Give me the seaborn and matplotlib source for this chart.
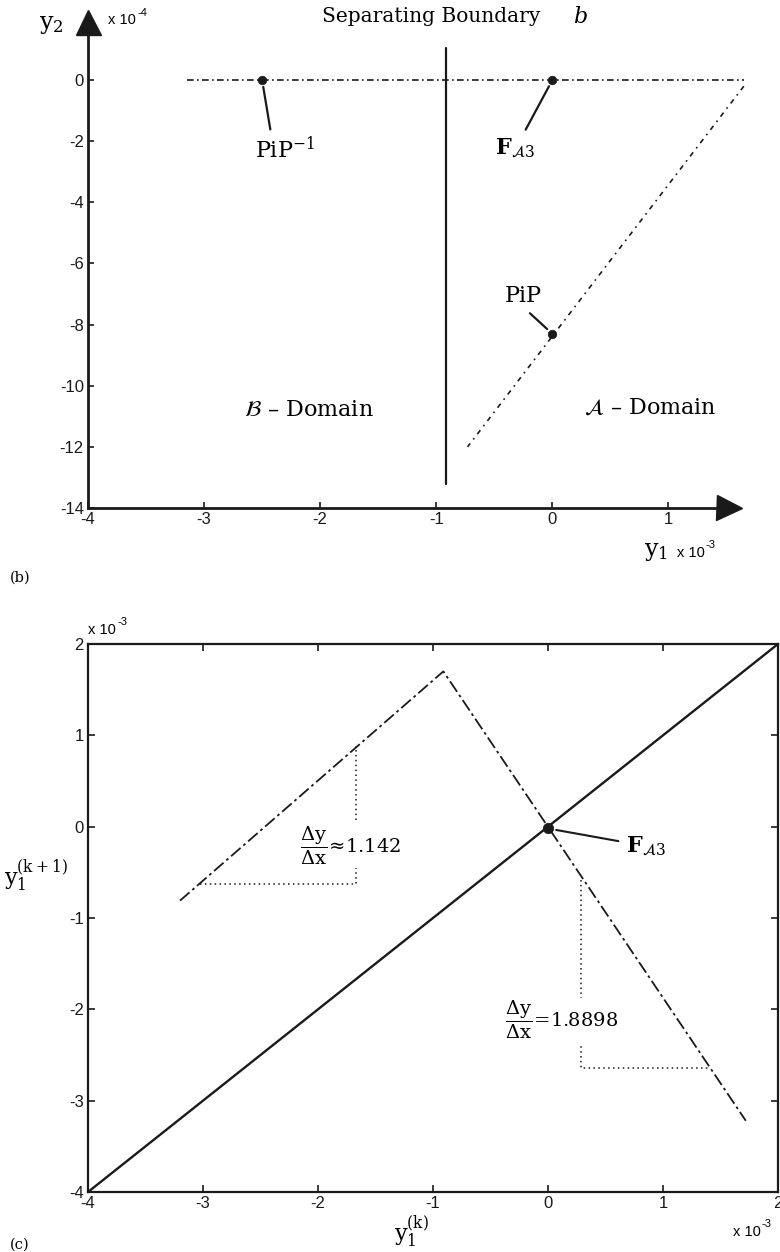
import numpy as np
import pandas as pd
import matplotlib
matplotlib.use("Agg")
import matplotlib.pyplot as plt
import seaborn as sns

# ---------------- panel (b): phase plane (x in 1e-3, y in 1e-4) ----------------
b_branch1_x = [-3.15, 1.65]
b_branch1_y = [0.0, 0.0]
b_branch2_x = [1.65, -0.73]
b_branch2_y = [-0.2, -12.0]
b_boundary_x = [-0.92, -0.92]
b_boundary_y = [1.05, -13.2]
b_points_x = [-2.5, 0.0, 0.0]
b_points_y = [0.0, 0.0, -8.3]
b_point_labels = ["PiP$^{-1}$", r"$\mathbf{F}_{\mathcal{A}3}$", "PiP"]
b_xticks = [-4, -3, -2, -1, 0, 1]
b_yticks = [-14, -12, -10, -8, -6, -4, -2, 0]

# ---------------- panel (c): return map (x, y in 1e-3) ----------------
c_diag_x = [-4.0, 2.0]
c_diag_y = [-4.0, 2.0]
c_map_x = [-3.2, -0.91, 1.72]
c_map_y = [-0.81, 1.70, -3.22]
c_fixed_x = [0.0]
c_fixed_y = [-0.02]
c_tri1_x = [-3.03, -1.67, -1.67]
c_tri1_y = [-0.63, -0.63, 0.88]
c_tri2_x = [0.29, 0.29, 1.39]
c_tri2_y = [-0.58, -2.64, -2.64]
c_slope_labels = [r"$\dfrac{\Delta\mathrm{y}}{\Delta\mathrm{x}}\!\approx\!1.142$",
                  r"$\dfrac{\Delta\mathrm{y}}{\Delta\mathrm{x}}\!=\!1.8898$"]
c_ticks = [-4, -3, -2, -1, 0, 1, 2]

sns.set_theme(style="ticks")
plt.rcParams["font.family"] = ["Liberation Sans", "DejaVu Sans"]
plt.rcParams["mathtext.fontset"] = "dejavuserif"
for key in ["text.color", "axes.labelcolor", "xtick.color", "ytick.color",
            "axes.edgecolor"]:
    plt.rcParams[key] = "black"

W, H = 780, 1252
fig = plt.figure(figsize=(W / 100, H / 100), dpi=100)
fig.patch.set_facecolor("white")

def fx(px):
    return px / W

def fy(py):
    return 1 - py / H

SERIF = "DejaVu Serif"

# ================= panel (b) =================
ax1 = fig.add_axes([fx(88), fy(508), 657 / W, 486 / H])
ax1.set_facecolor("white")
ax1.set_xlim(-4, 1.66)
ax1.set_ylim(-14, 1.9)

sns.lineplot(x=b_branch1_x, y=b_branch1_y, ax=ax1, color="k", lw=1.2,
             linestyle=(0, (4, 2, 1, 2)), sort=False, estimator=None)
sns.lineplot(x=b_branch2_x, y=b_branch2_y, ax=ax1, color="k", lw=1.2,
             linestyle=(0, (3, 3, 1, 3)), sort=False, estimator=None)
sns.lineplot(x=b_boundary_x, y=b_boundary_y, ax=ax1, color="k", lw=1.6,
             sort=False, estimator=None)
sns.scatterplot(x=b_points_x, y=b_points_y, ax=ax1, color="k", s=38,
                edgecolor="k", zorder=5)

for sp in ["top", "right"]:
    ax1.spines[sp].set_visible(False)
for sp in ["left", "bottom"]:
    ax1.spines[sp].set_linewidth(2.0)
    ax1.spines[sp].set_color("k")
ax1.spines["bottom"].set_bounds(-4, 1.52)
ax1.plot(1.52, -14, marker=">", ms=18, color="k", clip_on=False, zorder=6)
ax1.plot(-4, 1.9, marker="^", ms=18, color="k", clip_on=False, zorder=6)

ax1.set_xticks(b_xticks)
ax1.set_yticks(b_yticks)
ax1.set_xticklabels([str(t) for t in b_xticks])
ax1.set_yticklabels([str(t) for t in b_yticks])
ax1.tick_params(direction="in", length=4, width=1.2, labelsize=12, pad=3,
                colors="k")

# point annotations
ann_pos = [(-2.30, -2.29), (-0.32, -2.22), (-0.25, -7.07)]
ann_rel = [(0.27, 1.0), (0.67, 1.0), (0.5, 0.0)]
for lab, px_, py_, (tx, ty), rp in zip(b_point_labels, b_points_x, b_points_y,
                                        ann_pos, ann_rel):
    ax1.annotate(lab, xy=(px_, py_), xytext=(tx, ty), ha="center", va="center",
                 fontsize=16, family=SERIF,
                 arrowprops=dict(arrowstyle="-", color="k", lw=1.6,
                                 relpos=rp, shrinkA=3, shrinkB=5))

ax1.text(-2.1, -10.8, r"$\mathcal{B}$ – Domain", ha="center", va="center",
         fontsize=16, family=SERIF)
ax1.text(0.84, -10.73, r"$\mathcal{A}$ – Domain", ha="center", va="center",
         fontsize=16, family=SERIF)

fig.text(fx(431), fy(17), "Separating Boundary", ha="center", va="center",
         fontsize=14.5, family=SERIF)
fig.text(fx(580), fy(17), "b", ha="center", va="center", fontsize=16,
         family=SERIF, style="italic")
fig.text(fx(51), fy(25), r"$\mathrm{y}_2$", ha="center", va="center",
         fontsize=17, family=SERIF)
fig.text(fx(108), fy(20), "x 10", ha="left", va="center", fontsize=10.5)
fig.text(fx(137), fy(13), "-4", ha="left", va="center", fontsize=8)
fig.text(fx(656), fy(551), r"$\mathrm{y}_1$", ha="center", va="center",
         fontsize=17, family=SERIF)
fig.text(fx(677), fy(553), "x 10", ha="left", va="center", fontsize=10.5)
fig.text(fx(706), fy(545), "-3", ha="left", va="center", fontsize=8)
fig.text(fx(10), fy(578), "(b)", ha="left", va="center", fontsize=10.5,
         family=SERIF)

# ================= panel (c) =================
ax2 = fig.add_axes([fx(88), fy(1192), 690 / W, 548 / H])
ax2.set_facecolor("white")
ax2.set_xlim(-4, 2)
ax2.set_ylim(-4, 2)

sns.lineplot(x=c_diag_x, y=c_diag_y, ax=ax2, color="k", lw=1.7, sort=False,
             estimator=None)
sns.lineplot(x=c_map_x, y=c_map_y, ax=ax2, color="k", lw=1.3,
             linestyle=(0, (7, 2, 1.5, 2)), sort=False, estimator=None)
sns.lineplot(x=c_tri1_x, y=c_tri1_y, ax=ax2, color="k", lw=1.1,
             linestyle=(0, (1, 2.2)), sort=False, estimator=None)
sns.lineplot(x=c_tri2_x, y=c_tri2_y, ax=ax2, color="k", lw=1.1,
             linestyle=(0, (1, 2.2)), sort=False, estimator=None)
sns.scatterplot(x=c_fixed_x, y=c_fixed_y, ax=ax2, color="k", s=55,
                edgecolor="k", zorder=5)

for sp in ax2.spines.values():
    sp.set_visible(True)
    sp.set_linewidth(1.6)
    sp.set_color("k")
ax2.set_xticks(c_ticks)
ax2.set_yticks(c_ticks)
ax2.set_xticklabels([str(t) for t in c_ticks])
ax2.set_yticklabels([str(t) for t in c_ticks])
ax2.tick_params(direction="in", length=5, width=1.2, labelsize=12, pad=3,
                top=True, right=True, labeltop=False, labelright=False,
                colors="k")

ax2.annotate(r"$\mathbf{F}_{\mathcal{A}3}$", xy=(c_fixed_x[0], c_fixed_y[0]),
             xytext=(0.85, -0.21), ha="center", va="center", fontsize=16,
             family=SERIF,
             arrowprops=dict(arrowstyle="-", color="k", lw=1.5,
                             relpos=(0.0, 0.65), shrinkA=3, shrinkB=6))
ax2.text(-1.72, -0.21, c_slope_labels[0], ha="center", va="center",
         fontsize=14, family=SERIF,
         bbox=dict(facecolor="white", edgecolor="none", pad=1))
ax2.text(0.12, -2.12, c_slope_labels[1], ha="center", va="center",
         fontsize=14, family=SERIF,
         bbox=dict(facecolor="white", edgecolor="none", pad=1))

fig.text(fx(88), fy(630), "x 10", ha="left", va="center", fontsize=10.5)
fig.text(fx(117), fy(622), "-3", ha="left", va="center", fontsize=8)
fig.text(fx(733), fy(1232), "x 10", ha="left", va="center", fontsize=10.5)
fig.text(fx(762), fy(1224), "-3", ha="left", va="center", fontsize=8)
fig.text(fx(412), fy(1232), r"$\mathrm{y}_1^{(\mathrm{k})}$", ha="center",
         va="center", fontsize=16, family=SERIF)
fig.text(fx(36), fy(876), r"$\mathrm{y}_1^{(\mathrm{k+1})}$", ha="center",
         va="center", fontsize=16, family=SERIF)
fig.text(fx(10), fy(1245), "(c)", ha="left", va="center", fontsize=10.5,
         family=SERIF)

fig.savefig("out.png", dpi=100, facecolor="white")
